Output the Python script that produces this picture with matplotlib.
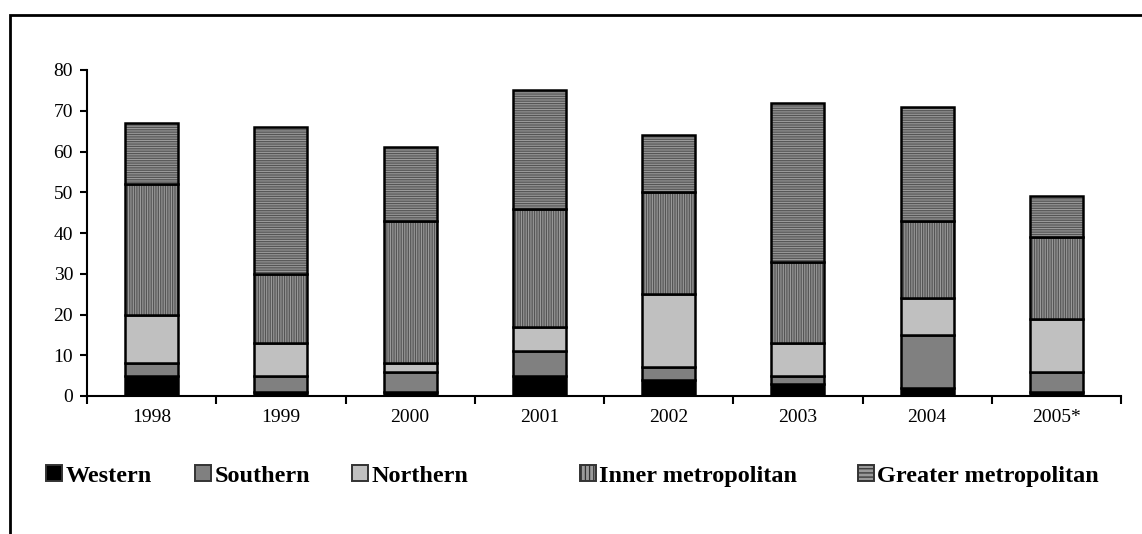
import matplotlib.pyplot as plt
import numpy as np
from matplotlib.patches import Patch, Rectangle

plt.rcParams['font.family'] = ['Liberation Serif', 'DejaVu Serif']
plt.rcParams['hatch.linewidth'] = 0.9

years = ["1998", "1999", "2000", "2001", "2002", "2003", "2004", "2005*"]
western = [5, 1, 1, 5, 4, 3, 2, 1]
southern = [3, 4, 5, 6, 3, 2, 13, 5]
northern = [12, 8, 2, 6, 18, 8, 9, 13]
inner = [32, 17, 35, 29, 25, 20, 19, 20]
greater = [15, 36, 18, 29, 14, 39, 28, 10]

series = [
    ("Western", western, "#000000", None),
    ("Southern", southern, "#808080", None),
    ("Northern", northern, "#c0c0c0", None),
    ("Inner metropolitan", inner, "#9a9a9a", "|" * 7),
    ("Greater metropolitan", greater, "#9a9a9a", "-" * 7),
]
# left edge (px) of each legend entry, as in the original layout
legend_x = [46, 195, 352, 580, 858]

fig = plt.figure(figsize=(11.42, 5.34), dpi=100)
ax = fig.add_axes([87 / 1142, 1 - 396 / 534, (1121 - 87) / 1142, (396 - 70) / 534])

x = np.arange(len(years))
width = 0.41
bottom = np.zeros(len(years))
handles = []
for name, vals, col, hatch in series:
    vals = np.array(vals, dtype=float)
    if hatch:
        ax.bar(x, vals, width, bottom=bottom, color=col, edgecolor="#555555",
               linewidth=0, hatch=hatch)
        ax.bar(x, vals, width, bottom=bottom, fill=False, edgecolor="black",
               linewidth=1.8)
        handles.append(Patch(facecolor=col, edgecolor="#333333",
                             hatch="|" * 4 if "|" in hatch else "-" * 4,
                             linewidth=1.4, label=name))
    else:
        ax.bar(x, vals, width, bottom=bottom, color=col, edgecolor="black",
               linewidth=1.8)
        handles.append(Patch(facecolor=col, edgecolor="#333333", linewidth=1.4, label=name))
    bottom += vals

ax.set_xlim(-0.5, len(years) - 0.5)
ax.set_ylim(0, 80)
ax.set_yticks(range(0, 81, 10))
ax.set_xticks(x)
ax.set_xticklabels(years)
ax.set_xticks(np.arange(-0.5, len(years), 1), minor=True)
ax.tick_params(axis="x", which="major", length=0, pad=9, labelsize=14)
ax.tick_params(axis="x", which="minor", length=6, width=1.5, direction="out")
ax.tick_params(axis="y", length=5, width=1.5, direction="out", pad=5, labelsize=14)
for s in ["top", "right"]:
    ax.spines[s].set_visible(False)
for s in ["left", "bottom"]:
    ax.spines[s].set_linewidth(1.5)

# outer frame of the chart area
fig.patches.append(Rectangle((10 / 1142, -0.5), 1.2, 1.5 - 15 / 534,
                             transform=fig.transFigure, fill=False,
                             edgecolor="black", linewidth=2, zorder=0))

for h, lx in zip(handles, legend_x):
    fig.legend(handles=[h], loc="center left", bbox_to_anchor=(lx / 1142, 1 - 476 / 534),
               frameon=False, prop={"weight": "bold", "size": 17.5},
               handlelength=0.65, handleheight=0.65, handletextpad=0.15,
               borderpad=0, borderaxespad=0)

fig.savefig("out.png", dpi=100)
